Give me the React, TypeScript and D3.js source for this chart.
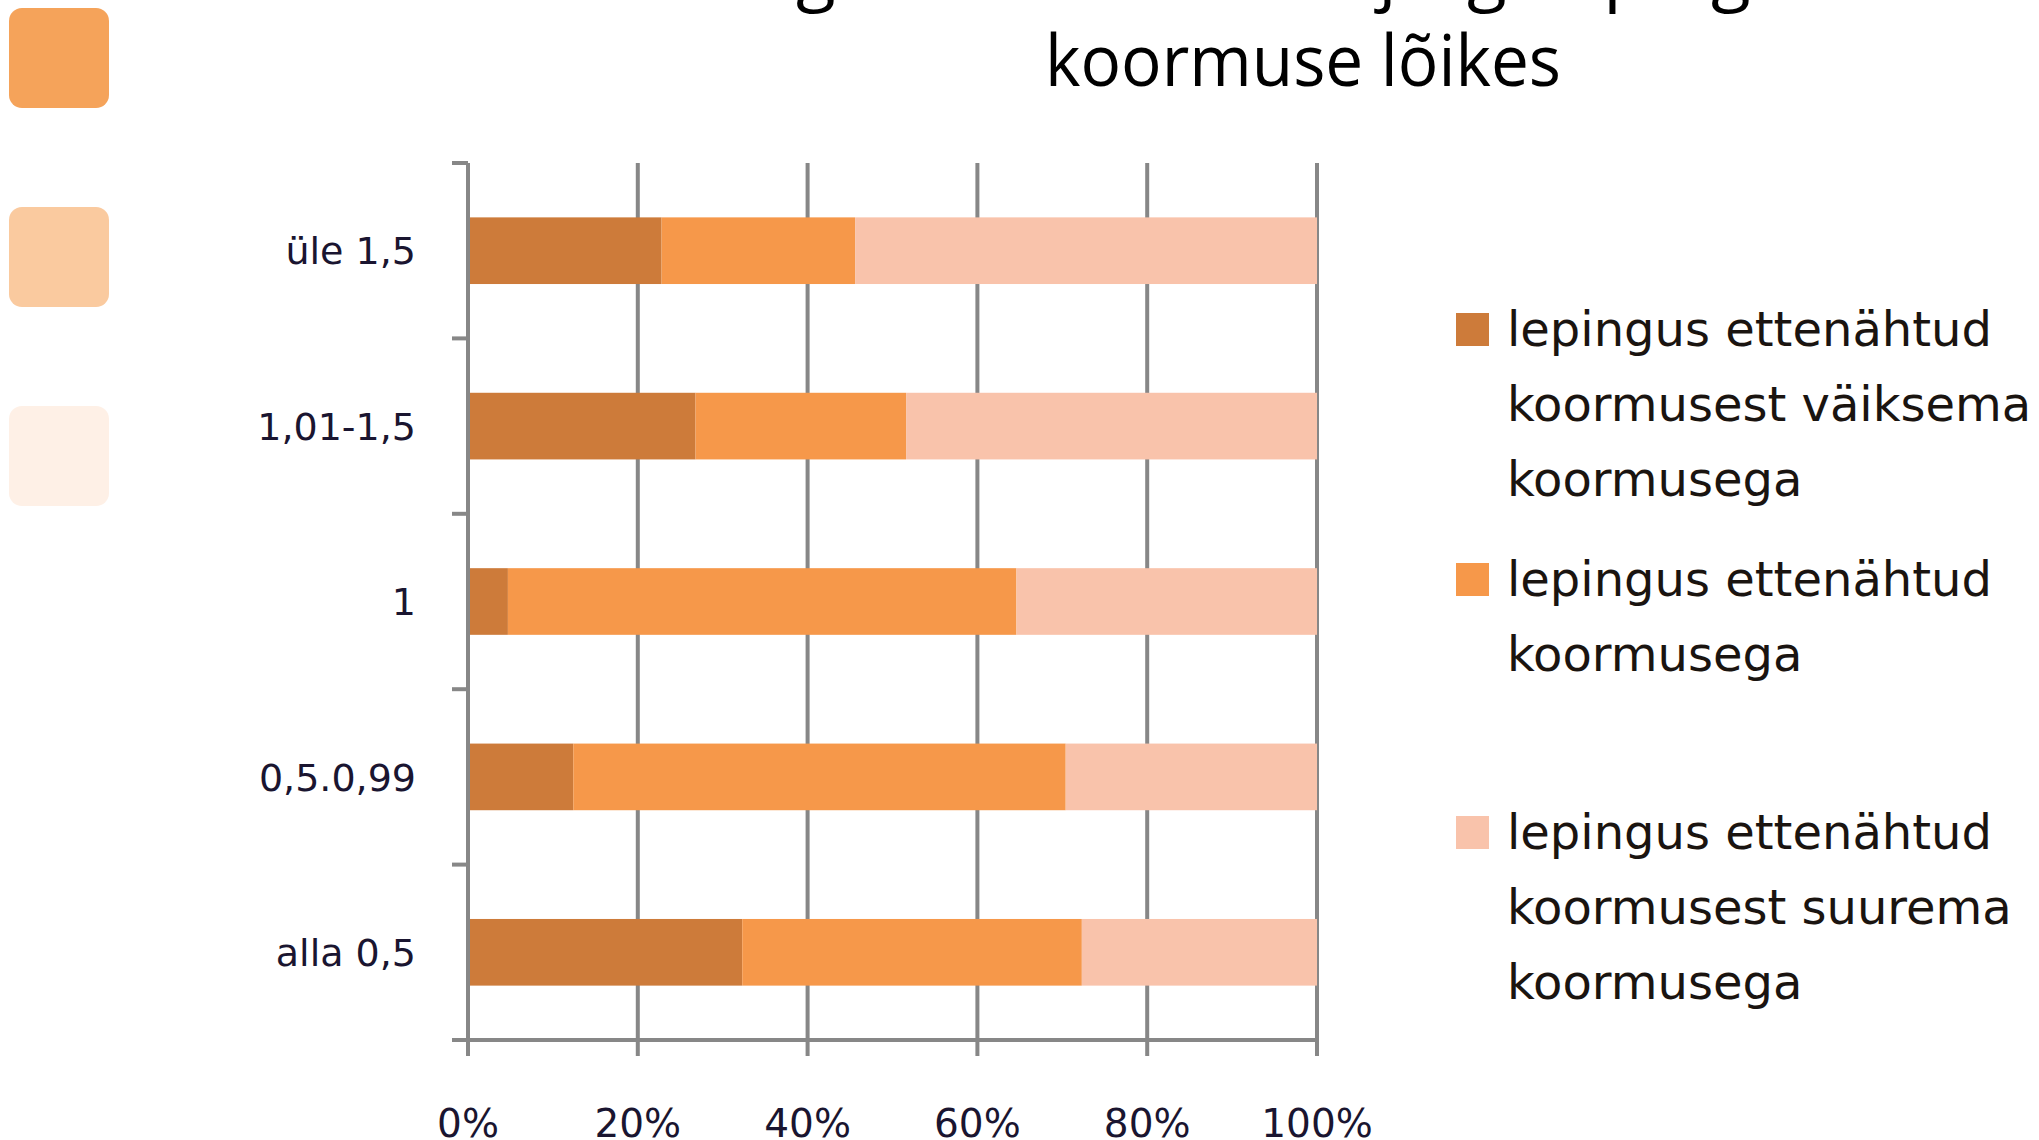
import React, { useEffect, useRef } from 'react';
import * as d3 from 'd3';

// Chart data
const categories = ['üle 1,5', '1,01-1,5', '1', '0,5.0,99', 'alla 0,5'];
const lessThanContract = [0.228, 0.268, 0.047, 0.124, 0.323];
const asContract = [0.228, 0.248, 0.599, 0.58, 0.4];
const moreThanContract = [0.544, 0.484, 0.354, 0.296, 0.277];
const xTicks = [0, 0.2, 0.4, 0.6, 0.8, 1];
const tickLabels = ['0%', '20%', '40%', '60%', '80%', '100%'];

const seriesNames = [
  ['lepingus ettenähtud', 'koormusest väiksema', 'koormusega'],
  ['lepingus ettenähtud', 'koormusega'],
  ['lepingus ettenähtud', 'koormusest suurema', 'koormusega'],
];
const seriesColors = ['#CD7B3A', '#F6984A', '#F9C3AB'];
const decoColors = ['#F5A35A', '#FACA9F', '#FEF0E6'];

const titleLines = ['Tegeliku koormuse järgi lepingus', 'koormuse lõikes'];

const App = () => {
  const svgRef = useRef<SVGSVGElement | null>(null);

  useEffect(() => {
    const svg = d3.select(svgRef.current);
    svg.selectAll('*').remove();

    const W = 2039;
    const H = 1140;
    const plot = { left: 468, right: 1317, top: 163, bottom: 1040 };

    svg.attr('width', W).attr('height', H);
    svg.append('rect').attr('width', W).attr('height', H).attr('fill', '#fff');

    // decorative rounded squares on the left
    const decoY = d3.scaleLinear().domain([0, 1]).range([8, 207]);
    svg.selectAll('.deco')
      .data(decoColors)
      .enter().append('rect')
      .attr('x', 9)
      .attr('y', (d, i) => decoY(i))
      .attr('width', 100)
      .attr('height', 100)
      .attr('rx', 13)
      .attr('fill', d => d);

    // title (first line is mostly cut off at the top)
    svg.append('text')
      .attr('x', 715)
      .attr('y', -3)
      .attr('textLength', 1115)
      .attr('lengthAdjust', 'spacingAndGlyphs')
      .style('font-family', 'Open Sans, sans-serif')
      .style('font-size', '71px')
      .text(titleLines[0]);
    svg.append('text')
      .attr('x', 1045)
      .attr('y', 86)
      .attr('textLength', 516)
      .attr('lengthAdjust', 'spacingAndGlyphs')
      .style('font-family', 'Open Sans, sans-serif')
      .style('font-size', '71px')
      .text(titleLines[1]);

    const x = d3.scaleLinear().domain([0, 1]).range([plot.left, plot.right]);
    const y = d3.scaleBand()
      .domain(categories)
      .range([plot.top, plot.bottom])
      .paddingInner(0.62)
      .paddingOuter(0.31);

    const grey = '#878787';

    // vertical gridlines (extend below the axis as ticks)
    svg.selectAll('.grid')
      .data(xTicks)
      .enter().append('line')
      .attr('x1', d => x(d))
      .attr('x2', d => x(d))
      .attr('y1', plot.top)
      .attr('y2', plot.bottom + 16)
      .attr('stroke', grey)
      .attr('stroke-width', 4);

    // stacked bars
    const rows = categories.map((c, i) => ({
      cat: c,
      less: lessThanContract[i],
      same: asContract[i],
      more: moreThanContract[i],
    }));
    const stack = d3.stack<any>().keys(['less', 'same', 'more']);
    const layers = stack(rows);

    layers.forEach((layer, li) => {
      svg.append('g')
        .selectAll('rect')
        .data(layer)
        .enter().append('rect')
        .attr('x', d => x(d[0]))
        .attr('width', d => x(d[1]) - x(d[0]))
        .attr('y', d => y(d.data.cat)!)
        .attr('height', y.bandwidth())
        .attr('fill', seriesColors[li]);
    });

    // y axis with category ticks
    const step = y.step();
    const bounds = d3.range(categories.length + 1).map(i => plot.top + i * step);
    svg.append('line')
      .attr('x1', plot.left).attr('x2', plot.left)
      .attr('y1', plot.top).attr('y2', plot.bottom)
      .attr('stroke', grey).attr('stroke-width', 4);
    svg.selectAll('.ytick')
      .data(bounds)
      .enter().append('line')
      .attr('x1', plot.left - 16).attr('x2', plot.left)
      .attr('y1', d => d).attr('y2', d => d)
      .attr('stroke', grey).attr('stroke-width', 4);

    // x axis line
    svg.append('line')
      .attr('x1', plot.left - 16).attr('x2', plot.right)
      .attr('y1', plot.bottom).attr('y2', plot.bottom)
      .attr('stroke', grey).attr('stroke-width', 4);

    // category labels
    svg.selectAll('.cat')
      .data(categories)
      .enter().append('text')
      .attr('x', 416)
      .attr('y', d => y(d)! + y.bandwidth() / 2)
      .attr('dy', '0.36em')
      .attr('text-anchor', 'end')
      .style('font-family', 'DejaVu Sans, sans-serif')
      .style('font-size', '38px')
      .attr('fill', '#1a1530')
      .text(d => d);

    // x tick labels
    svg.selectAll('.xlab')
      .data(xTicks)
      .enter().append('text')
      .attr('x', d => x(d))
      .attr('y', 1137)
      .attr('text-anchor', 'middle')
      .style('font-family', 'DejaVu Sans, sans-serif')
      .style('font-size', '39px')
      .attr('fill', '#1a1530')
      .text((d, i) => tickLabels[i]);

    // legend
    const legendBase = [346, 596, 849];
    const lineGap = 75;
    seriesNames.forEach((lines, i) => {
      const g = svg.append('g');
      g.append('rect')
        .attr('x', 1456)
        .attr('y', legendBase[i] - 33)
        .attr('width', 33)
        .attr('height', 33)
        .attr('fill', seriesColors[i]);
      g.selectAll('text')
        .data(lines)
        .enter().append('text')
        .attr('x', 1507)
        .attr('y', (d, j) => legendBase[i] + j * lineGap)
        .style('font-family', 'DejaVu Sans, sans-serif')
        .style('font-size', '48px')
        .attr('fill', '#1a1410')
        .text(d => d);
    });
  }, []);

  return (
    <svg
      ref={svgRef}
      style={{ position: 'absolute', left: 0, top: 0, display: 'block' }}
    ></svg>
  );
};

export default App;
